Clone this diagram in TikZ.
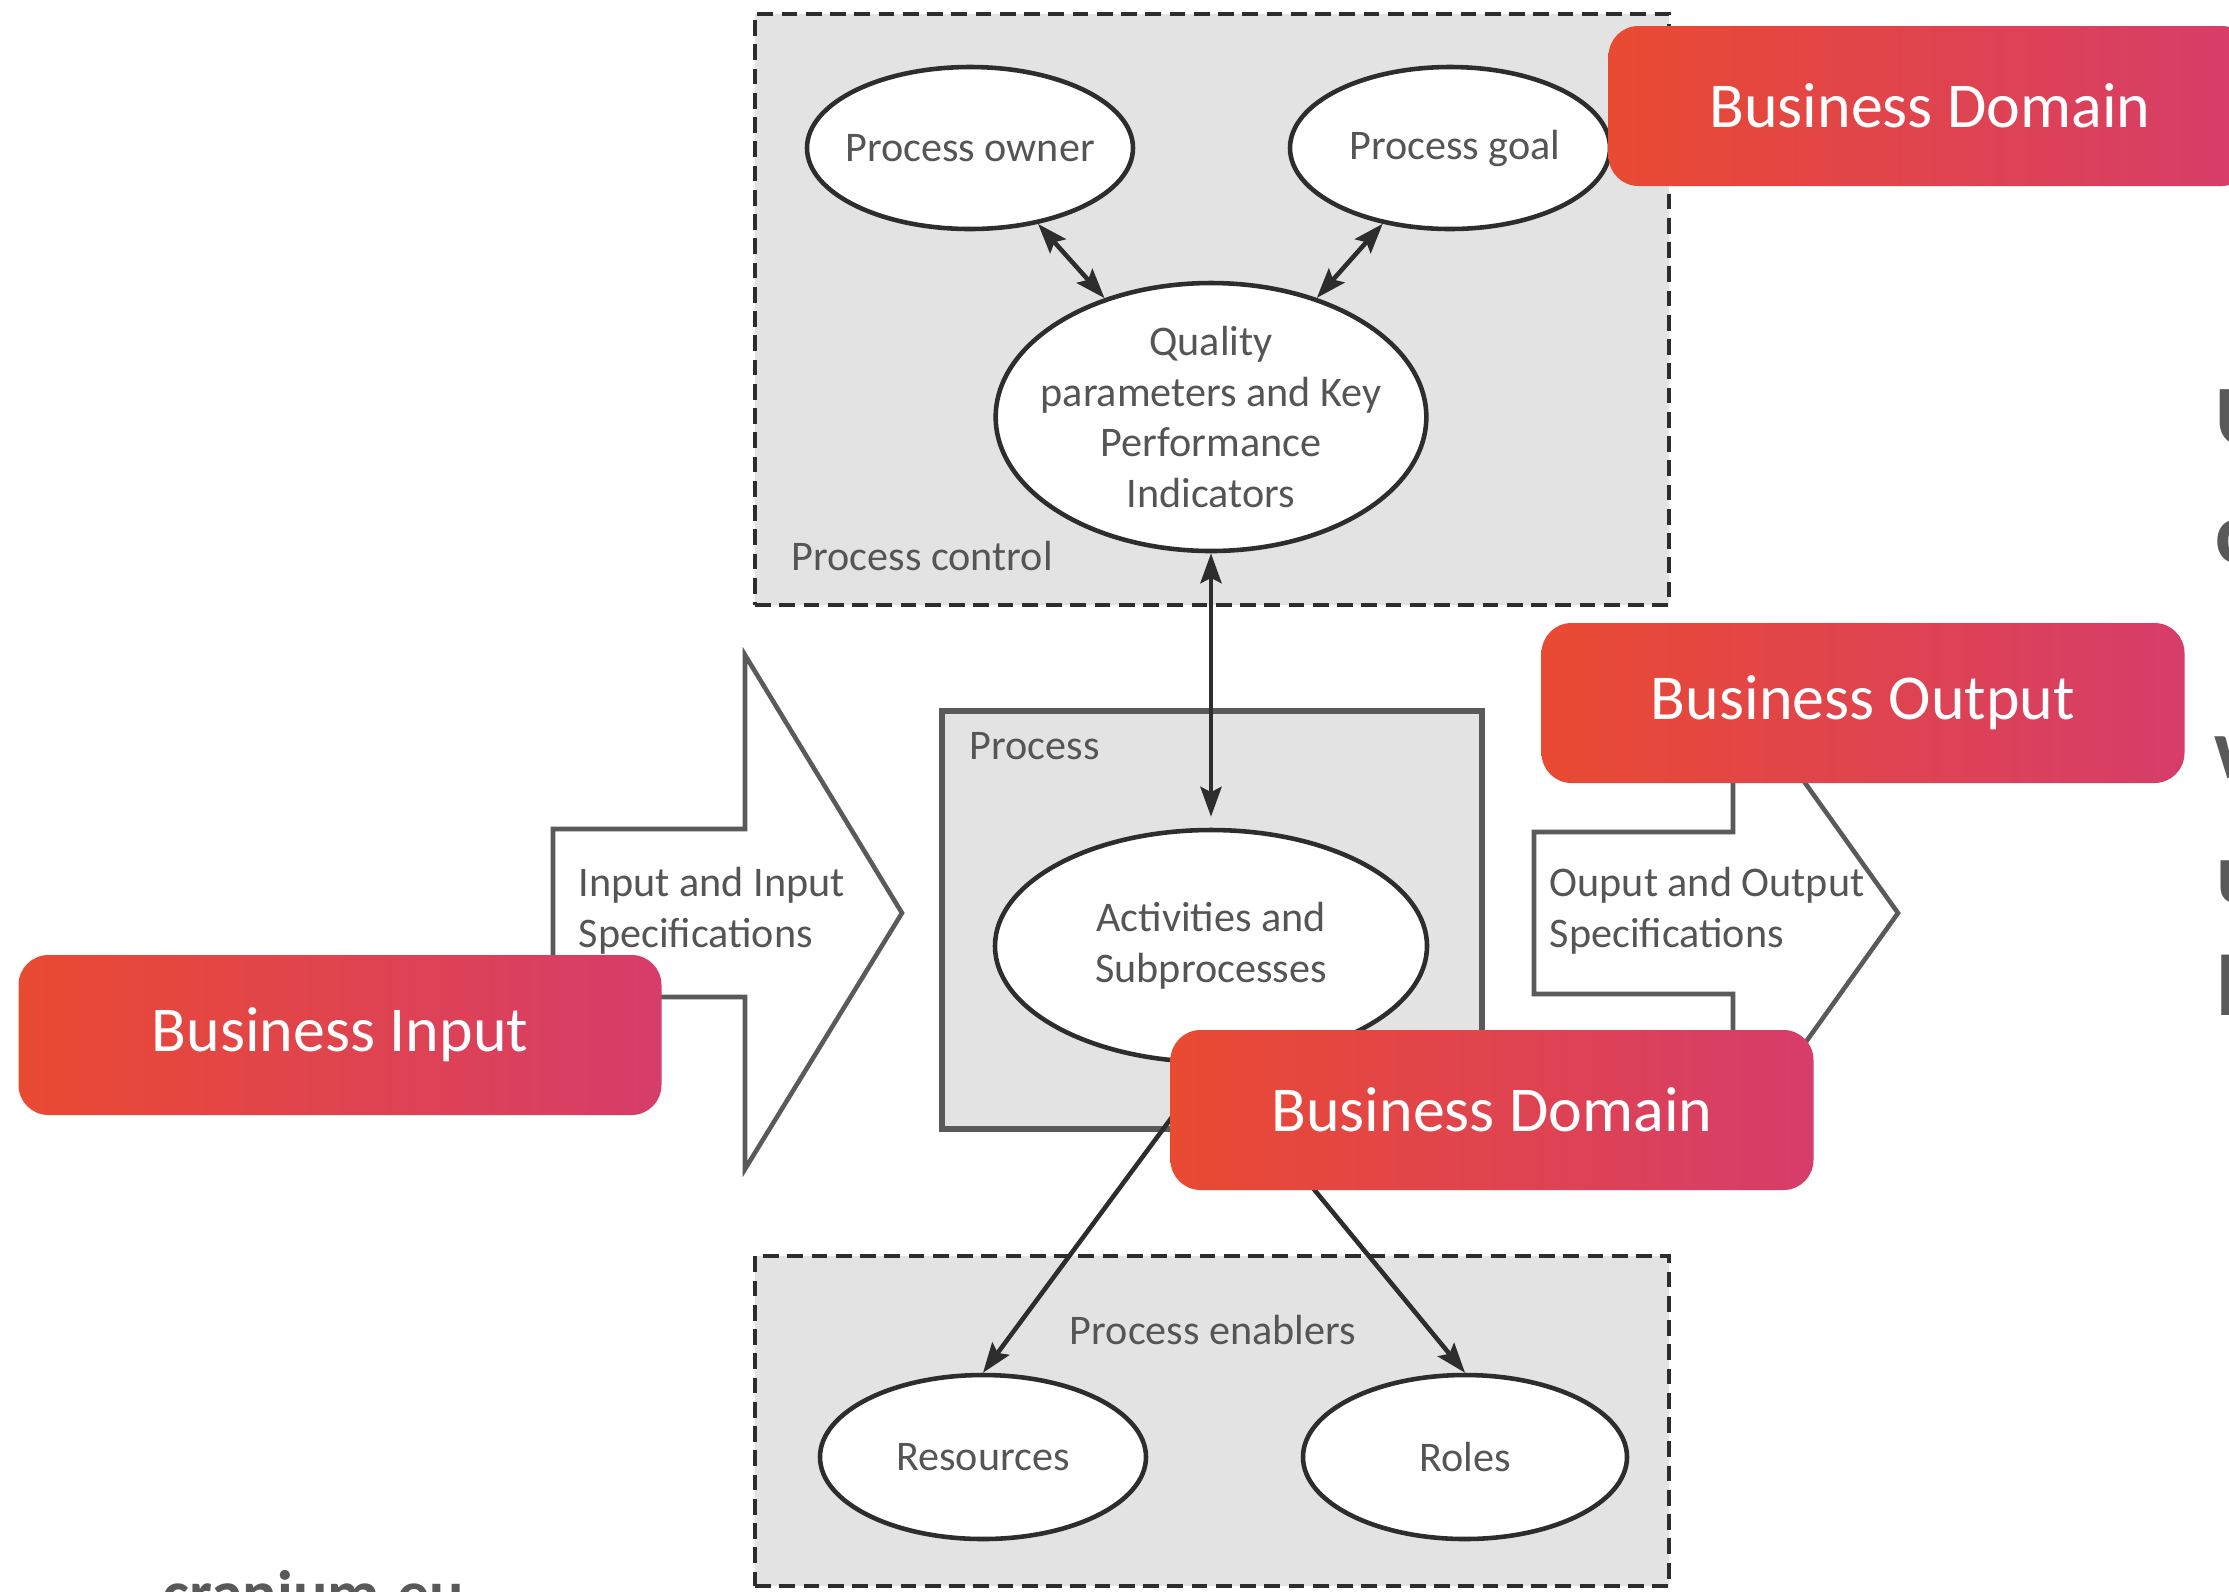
\documentclass[tikz,border=0pt]{standalone}
\usepackage{fontspec}
\setmainfont{Carlito}
\usetikzlibrary{shapes.geometric,arrows.meta}

\definecolor{boxgray}{RGB}{227,227,227}
\definecolor{txtgray}{RGB}{85,85,85}
\definecolor{linegray}{RGB}{45,45,45}
\definecolor{edgegray}{RGB}{90,90,90}
\definecolor{bizorange}{RGB}{233,74,50}
\definecolor{bizpink}{RGB}{214,61,106}
\definecolor{sidegray}{RGB}{89,89,89}

\tikzset{
	dashbox/.style = {draw=linegray, line width=1.4pt, dash pattern=on 4.5pt off 2.4pt, fill=boxgray, inner sep=0},
	oval/.style = {ellipse, draw=linegray, line width=1.3pt, fill=white, inner xsep=-1mm, inner ysep=0, text=txtgray, align=center},
	smalltxt/.style = {text=txtgray, inner sep=0, align=left},
	blockarrow/.style = {draw=edgegray, line width=1.3pt, fill=white, line join=miter},
	twoway/.style = {{Stealth[length=8.5pt,width=6pt,inset=1.5pt]}-{Stealth[length=8.5pt,width=6pt,inset=1.5pt]}, line width=1.3pt, draw=linegray},
	oneway/.style = {-{Stealth[length=8.5pt,width=6pt,inset=1.5pt]}, line width=1.3pt, draw=linegray},
	biztag/.style = {rounded corners=3mm, left color=bizorange, right color=bizpink, minimum width=64.3mm, minimum height=16mm, text=white, font=\fontsize{18.2}{21}\selectfont},
	sidetxt/.style = {text=sidegray, inner sep=0, anchor=base west, font=\fontsize{24.5}{28}\selectfont\bfseries}
}

\begin{document}
\begin{tikzpicture}[x=0.1mm, y=-0.1mm, font=\fontsize{12}{14.4}\selectfont]
	\fill[white] (0,0) rectangle (2229,1591);
	\useasboundingbox (0,0) rectangle (2229,1591);

	% dashed groups and process frame
	\node[dashbox, minimum width=91.4mm, minimum height=59.1mm] (ctrl) at (1212,309.5) {};
	\node[dashbox, minimum width=91.4mm, minimum height=33.0mm] (enab) at (1212,1421) {};
	\node[draw=edgegray, line width=1.6pt, fill=boxgray, minimum width=54mm, minimum height=41.8mm, inner sep=0] (proc) at (1212,920) {};
	\node[smalltxt, anchor=west] (ctrltxt) at (791,556) {Process control};
	\node[smalltxt, anchor=west] (proctxt) at (969,746) {Process};
	\node[smalltxt] (enabtxt) at (1213,1330) {Process enablers};

	% input and output
	\draw[blockarrow] (553,829) -- (745,829) -- (745,655) -- (902,913) -- (745,1169) -- (745,997) -- (553,997) -- cycle;
	\draw[blockarrow] (1534,832) -- (1733,832) -- (1733,682) -- (1898,913) -- (1733,1144) -- (1733,994) -- (1534,994) -- cycle;
	\node[smalltxt, anchor=west] (intxt) at (578,911) {Input and Input\\Specifications};
	\node[smalltxt, anchor=west] (outtxt) at (1549,911) {Ouput and Output\\Specifications};

	% ovals
	\node[oval, minimum width=32.6mm, minimum height=16.2mm] (owner) at (970,148) {Process owner};
	\node[oval, minimum width=32.0mm, minimum height=16.2mm] (goal) at (1450,148) {\hspace*{1mm}Process goal};
	\node[oval, minimum width=43.0mm, minimum height=26.8mm, inner xsep=-1.8mm, inner ysep=-0.3mm] (kpi) at (1211,417) {Quality\\parameters and Key\\Performance\\Indicators};
	\node[oval, minimum width=43.2mm, minimum height=23.2mm] (act) at (1211,946) {Activities and\\Subprocesses};
	\node[oval, minimum width=32.6mm, minimum height=16.4mm] (res) at (983,1457) {Resources};
	\node[oval, minimum width=32.4mm, minimum height=16.4mm] (roles) at (1465,1457) {Roles};

	\draw[twoway] (owner) -- (kpi);
	\draw[twoway] (goal) -- (kpi);
	\draw[twoway, shorten >=1.1mm] (kpi.south) -- (act.north);
	\draw[oneway] (act.south) -- (res.north);
	\draw[oneway] (act.south) -- (roles.north);

	% tags
	\node[biztag] (domtop) at (1930,106) {Business Domain};
	\node[biztag] (bizout) at (1863,703) {Business Output};
	\node[biztag] (bizin) at (340,1035) {Business Input};
	\node[biztag] (dommid) at (1492,1110) {Business Domain};

	% cut text at the edges
	\node[sidetxt] (s1) at (2215,445) {U};
	\node[sidetxt] (s2) at (2215,562) {c};
	\node[sidetxt] (s3) at (2214,778) {w};
	\node[sidetxt] (s4) at (2216,902) {u};
	\node[sidetxt] (s5) at (2216,1015) {l};
	\node[sidetxt, font=\fontsize{18.3}{21}\selectfont\bfseries] (site) at (162,1615) {cranium.eu};
\end{tikzpicture}
\end{document}
